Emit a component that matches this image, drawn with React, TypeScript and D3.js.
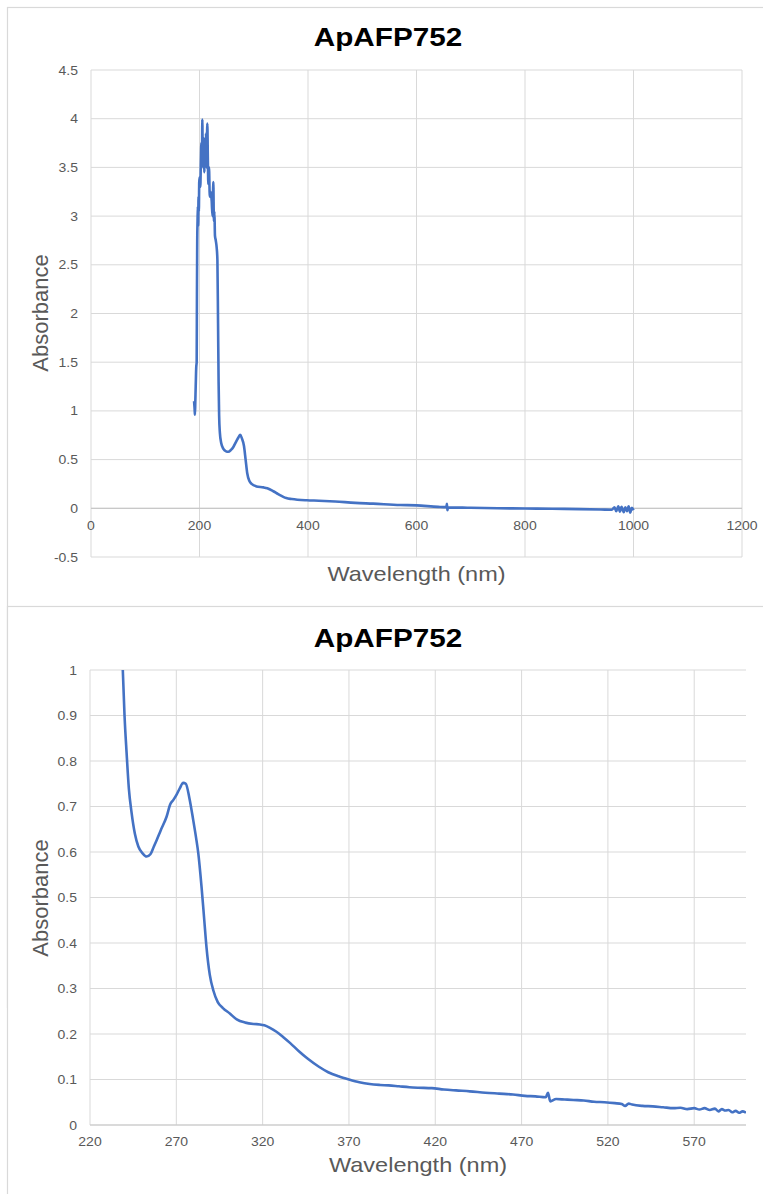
import * as d3 from "d3";

// full scan 190-1000 nm
const fullWavelength = [
  190, 191, 191.6, 192.2, 193, 194, 194.8, 195.3, 195.8, 196.4, 197, 197.6, 198.2, 198.8, 199.5,
  200.5, 201.5, 202.5, 203.5, 204.5, 205.2, 206, 207, 208, 209, 210, 211, 212, 213,
  214.4, 215.5, 216.3, 217.5, 219, 220.5, 222.4, 224, 225.5, 226.5, 227.5, 228.5, 230,
  231.6, 233, 234.2, 235.2, 236.2, 237.5, 240, 244, 249, 253, 258, 262.4, 268,
  272, 275, 278, 282, 285, 288, 292, 296, 305, 318, 325, 336, 345, 352, 360, 370, 398,
  420, 450, 487, 520, 570, 600, 640, 655, 656, 657, 658, 700, 750, 800, 850, 900, 940,
  960, 965, 968, 972, 975, 978, 982, 985, 988, 991, 994, 997, 1000,
];
const fullAbsorbance = [
  1.1, 1.02, 0.96, 1.08, 1.25, 1.45, 1.5, 2.2, 2.75, 2.95, 3.1, 2.9, 3.2, 3.05, 3.35,
  3.4, 3.3, 3.55, 3.75, 3.5, 3.99, 3.6, 3.54, 3.8, 3.45, 3.7, 3.6, 3.85, 3.5,
  3.95, 3.55, 3.33, 3.5, 3.2, 3.25, 3.16, 3.0, 3.35, 2.95, 3.05, 2.8, 2.75,
  2.68, 2.55, 1.9, 1.3, 0.95, 0.78, 0.67, 0.61, 0.585, 0.58, 0.6, 0.63, 0.69,
  0.73, 0.755, 0.72, 0.64, 0.5, 0.36, 0.28, 0.25, 0.225, 0.215, 0.205, 0.175, 0.145, 0.125, 0.105, 0.095, 0.082,
  0.078, 0.07, 0.056, 0.048, 0.034, 0.03, 0.015, 0.012, 0.045, -0.02, 0.01, 0.005, 0.0, -0.002, -0.005, -0.008, -0.012,
  -0.015, 0.01, -0.03, 0.02, -0.035, 0.015, -0.04, 0.01, -0.03, 0.02, -0.045, 0.005, -0.02,
];

// zoomed scan 239-600 nm
const zoomWavelength = [
  239, 240, 241.2, 242.5, 244.1, 246, 248, 250.5, 252.8, 255, 257, 258.6, 261, 264.4,
  266.5, 268.2, 270, 272, 274, 275.5, 277.5, 279.8, 281.5, 282.7, 284.6, 286.2, 287.5,
  289.4, 291.5, 294, 297, 301, 305, 310, 315, 318.4, 321, 324, 328, 332, 336, 341, 346,
  352.6, 358, 364, 370, 376, 382, 388, 393, 399, 405, 410, 418, 425, 432, 440, 449, 457,
  465, 472, 478, 484, 485.3, 486.6, 490, 495, 500, 506, 512, 518, 524, 528, 530, 532,
  534, 540, 546, 552, 558, 562, 566, 570, 573, 576, 579, 582, 584, 586, 588, 590, 592,
  594, 596, 598, 600,
];
const zoomAbsorbance = [
  1.0, 0.9, 0.818, 0.74, 0.686, 0.64, 0.612, 0.597, 0.59, 0.595, 0.612, 0.626, 0.648, 0.678,
  0.705, 0.714, 0.725, 0.74, 0.752, 0.75, 0.72, 0.67, 0.63, 0.598, 0.524, 0.45, 0.39,
  0.33, 0.295, 0.27, 0.257, 0.245, 0.232, 0.225, 0.222, 0.221, 0.219, 0.214, 0.205, 0.193, 0.18, 0.162, 0.146,
  0.128, 0.116, 0.107, 0.1, 0.094, 0.09, 0.088, 0.087, 0.085, 0.083, 0.082, 0.081, 0.078, 0.076, 0.074, 0.071, 0.069,
  0.067, 0.064, 0.063, 0.061, 0.071, 0.052, 0.057, 0.056, 0.055, 0.054, 0.051, 0.05, 0.048, 0.046, 0.042, 0.047,
  0.045, 0.042, 0.041, 0.039, 0.037, 0.038, 0.035, 0.037, 0.034, 0.037, 0.033, 0.036, 0.03, 0.035, 0.032, 0.033, 0.028,
  0.031, 0.027, 0.03, 0.027,
];

const fullXTicks = [0, 200, 400, 600, 800, 1000, 1200];
const fullYTicks = [-0.5, 0, 0.5, 1, 1.5, 2, 2.5, 3, 3.5, 4, 4.5];
const zoomXTicks = [220, 270, 320, 370, 420, 470, 520, 570];
const zoomYTicks = [0, 0.1, 0.2, 0.3, 0.4, 0.5, 0.6, 0.7, 0.8, 0.9, 1];

const chartTitle = "ApAFP752";
const xTitle = "Wavelength (nm)";
const yTitle = "Absorbance";

const LINE = "#4472C4";
const GRID = "#d9d9d9";
const LABEL = "#595959";
const FONT = "'Liberation Sans', Arial, sans-serif";
const STRETCH = 1.12;

type PanelProps = {
  top: number;
  xs: number[];
  ys: number[];
  xDomain: [number, number];
  yDomain: [number, number];
  xTicks: number[];
  yTicks: number[];
  plot: { left: number; right: number; top: number; bottom: number };
  titleY: number;
  xLabelY: number;
  xTitleY: number;
  yTitleY: number;
  id: string;
};

const Panel = ({ top, xs, ys, xDomain, yDomain, xTicks, yTicks, plot, titleY, xLabelY, xTitleY, yTitleY, id }: PanelProps) => {
  const x = d3.scaleLinear().domain(xDomain).range([plot.left, plot.right]);
  const y = d3.scaleLinear().domain(yDomain).range([plot.bottom, plot.top]);
  const pts = xs.map((w, i) => [w, ys[i]] as [number, number]);
  const line = d3
    .line<[number, number]>()
    .x((d) => x(d[0]))
    .y((d) => y(d[1]))
    .curve(d3.curveMonotoneX);
  const zeroY = y(0);
  const cx = (plot.left + plot.right) / 2;

  // the source screenshot is a little stretched sideways, so text is too
  const txt = (tx: number, ty: number, s: string, props: any) => (
    <text transform={`translate(${tx},${ty}) scale(${STRETCH},1)`} {...props}>
      {s}
    </text>
  );

  return (
    <g>
      <rect x={7.5} y={top + 0.5} width={800} height={1000} fill="white" stroke={GRID} strokeWidth={1.2} />
      <defs>
        <clipPath id={id}>
          <rect x={plot.left} y={plot.top - 2} width={plot.right - plot.left} height={plot.bottom - plot.top + 4} />
        </clipPath>
      </defs>
      {yTicks.map((t) => (
        <line key={"h" + t} x1={plot.left} x2={plot.right} y1={y(t)} y2={y(t)} stroke={GRID} strokeWidth={1} />
      ))}
      {xTicks.map((t) => (
        <line key={"v" + t} x1={x(t)} x2={x(t)} y1={plot.top} y2={plot.bottom} stroke={GRID} strokeWidth={1} />
      ))}
      <line x1={plot.left} x2={plot.right} y1={zeroY} y2={zeroY} stroke="#c8c8c8" strokeWidth={1.2} />
      {yTicks.map((t) =>
        txt(plot.left - 13, y(t) + 4.5, String(t), { key: "yl" + t, textAnchor: "end", fontSize: 12.5, fill: LABEL, fontFamily: FONT })
      )}
      {xTicks.map((t) =>
        txt(x(t), xLabelY, String(t), { key: "xl" + t, textAnchor: "middle", fontSize: 12.5, fill: LABEL, fontFamily: FONT })
      )}
      <path d={line(pts) ?? ""} fill="none" stroke={LINE} strokeWidth={2.6} strokeLinejoin="round" clipPath={`url(#${id})`} />
      {txt(388, titleY, chartTitle, { textAnchor: "middle", fontSize: 26.5, fontWeight: "bold", fill: "#000", fontFamily: FONT })}
      {txt(cx, xTitleY, xTitle, { textAnchor: "middle", fontSize: 21, fill: LABEL, fontFamily: FONT })}
      <text
        transform={`translate(48,${yTitleY}) rotate(-90)`}
        textAnchor="middle"
        fontSize={22}
        fill={LABEL}
        fontFamily={FONT}
      >
        {yTitle}
      </text>
    </g>
  );
};

export default function App() {
  return (
    <svg
      width={763}
      height={1194}
      style={{ position: "absolute", left: 0, top: 0, background: "white" }}
      xmlns="http://www.w3.org/2000/svg"
    >
      <rect width={763} height={1194} fill="white" />
      <Panel
        id="clipFull"
        top={7}
        xs={fullWavelength}
        ys={fullAbsorbance}
        xDomain={[0, 1200]}
        yDomain={[-0.5, 4.5]}
        xTicks={fullXTicks}
        yTicks={fullYTicks}
        plot={{ left: 91, right: 742, top: 70, bottom: 557 }}
        titleY={46}
        xLabelY={530}
        xTitleY={581}
        yTitleY={313}
      />
      <Panel
        id="clipZoom"
        top={606}
        xs={zoomWavelength}
        ys={zoomAbsorbance}
        xDomain={[220, 600]}
        yDomain={[0, 1]}
        xTicks={zoomXTicks}
        yTicks={zoomYTicks}
        plot={{ left: 90, right: 746, top: 670, bottom: 1125 }}
        titleY={647}
        xLabelY={1146}
        xTitleY={1172}
        yTitleY={898}
      />
    </svg>
  );
}
